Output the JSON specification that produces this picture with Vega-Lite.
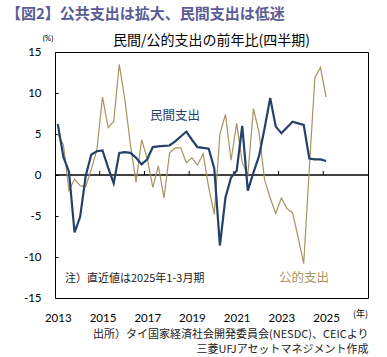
{
  "$schema": "https://vega.github.io/schema/vega-lite/v6.json",
  "background": "white",
  "padding": {"left": 5, "right": 5, "top": 7, "bottom": 5},
  "title": {
    "text": "【図2】公共支出は拡大、民間支出は低迷",
    "anchor": "start",
    "frame": "bounds",
    "font": "Noto Sans CJK JP",
    "fontSize": 15,
    "fontWeight": "bold",
    "color": "#5b5b96",
    "offset": 11,
    "dx": -17
  },
  "vconcat": [
    {
      "title": {
        "text": "民間/公的支出の前年比(四半期)",
        "anchor": "middle",
        "font": "Noto Sans CJK JP",
        "fontSize": 14,
        "fontWeight": "normal",
        "color": "#000000",
        "offset": -13
      },
      "width": 313,
      "height": 246,
      "data": {
        "values": [
          {"t": 2013.00, "private": 6.2, "public": 5.0},
          {"t": 2013.25, "private": 2.2, "public": 3.7},
          {"t": 2013.50, "private": 0.4, "public": -1.9},
          {"t": 2013.75, "private": -7.0, "public": -0.5},
          {"t": 2014.00, "private": -5.1, "public": -1.3},
          {"t": 2014.25, "private": -0.1, "public": -1.4},
          {"t": 2014.50, "private": 2.5, "public": 0.7},
          {"t": 2014.75, "private": 2.9, "public": 3.1},
          {"t": 2015.00, "private": 3.0, "public": 9.5},
          {"t": 2015.25, "private": 0.9, "public": 5.8},
          {"t": 2015.50, "private": -1.0, "public": 6.5},
          {"t": 2015.75, "private": 2.7, "public": 13.5},
          {"t": 2016.00, "private": 2.8, "public": 9.2},
          {"t": 2016.25, "private": 2.7, "public": 3.7},
          {"t": 2016.50, "private": 2.1, "public": -0.9},
          {"t": 2016.75, "private": 1.3, "public": 4.3},
          {"t": 2017.00, "private": 1.9, "public": 2.0},
          {"t": 2017.25, "private": 3.4, "public": -1.5},
          {"t": 2017.50, "private": 3.5, "public": 1.1},
          {"t": 2017.75, "private": 3.55, "public": -2.8},
          {"t": 2018.00, "private": 3.6, "public": 2.7},
          {"t": 2018.25, "private": 4.1, "public": 3.3},
          {"t": 2018.50, "private": 4.7, "public": 3.3},
          {"t": 2018.75, "private": 5.3, "public": 1.5},
          {"t": 2019.00, "private": 4.3, "public": 2.1},
          {"t": 2019.25, "private": 3.4, "public": 1.2},
          {"t": 2019.50, "private": 3.3, "public": 2.6},
          {"t": 2019.75, "private": 3.2, "public": -1.5},
          {"t": 2020.00, "private": 0.8, "public": -4.8},
          {"t": 2020.25, "private": -8.6, "public": 5.0},
          {"t": 2020.50, "private": -2.75, "public": 7.4},
          {"t": 2020.75, "private": -0.3, "public": 1.8},
          {"t": 2021.00, "private": 0.5, "public": 6.3},
          {"t": 2021.25, "private": 6.0, "public": 1.5},
          {"t": 2021.50, "private": -1.9, "public": 0.0},
          {"t": 2021.75, "private": 0.3, "public": 8.1},
          {"t": 2022.00, "private": 2.3, "public": 5.2},
          {"t": 2022.25, "private": 5.7, "public": -0.6},
          {"t": 2022.50, "private": 9.4, "public": -2.8},
          {"t": 2022.75, "private": 5.9, "public": -4.7},
          {"t": 2023.00, "private": 5.1, "public": -2.8},
          {"t": 2023.25, "private": 5.8, "public": -4.1},
          {"t": 2023.50, "private": 6.5, "public": -4.6},
          {"t": 2023.75, "private": 6.3, "public": -7.6},
          {"t": 2024.00, "private": 6.1, "public": -10.8},
          {"t": 2024.25, "private": 2.0, "public": 0.8},
          {"t": 2024.50, "private": 1.9, "public": 11.9},
          {"t": 2024.75, "private": 1.9, "public": 13.1},
          {"t": 2025.00, "private": 1.7, "public": 9.5}
        ]
      },
      "layer": [
        {
          "data": {"values": [{"v": 0}]},
          "mark": {"type": "rule", "color": "#000000", "strokeWidth": 1.5},
          "encoding": {
            "y": {"field": "v", "type": "quantitative", "scale": {"domain": [-15, 15], "nice": false, "zero": false}}
          }
        },
        {
          "data": {"values": [{"t": 2014.875}, {"t": 2016.875}, {"t": 2018.875}, {"t": 2020.875}, {"t": 2022.875}, {"t": 2024.875}]},
          "mark": {"type": "rule", "color": "#000000", "strokeWidth": 1},
          "encoding": {
            "x": {"field": "t", "type": "quantitative", "scale": {"domain": [2012.875, 2026.875], "nice": false, "zero": false}},
            "y": {"datum": 0, "type": "quantitative", "scale": {"domain": [-15, 15], "nice": false, "zero": false}},
            "y2": {"datum": 0.5}
          }
        },
        {
          "mark": {"type": "line", "color": "#a39462", "strokeWidth": 1.2},
          "encoding": {
            "x": {"field": "t", "type": "quantitative", "scale": {"domain": [2012.875, 2026.875], "nice": false, "zero": false}},
            "y": {"field": "public", "type": "quantitative", "scale": {"domain": [-15, 15], "nice": false, "zero": false}}
          }
        },
        {
          "mark": {"type": "line", "color": "#25406a", "strokeWidth": 2.2},
          "encoding": {
            "x": {
              "field": "t", "type": "quantitative",
              "scale": {"domain": [2012.875, 2026.875], "nice": false, "zero": false},
              "axis": {
                "values": [2013, 2015, 2017, 2019, 2021, 2023, 2025],
                "format": "d",
                "ticks": false,
                "domain": false,
                "grid": false,
                "labelPadding": 14,
                "labelFont": "Lato",
                "labelFontSize": 11.5,
                "labelColor": "#000000",
                "title": ["出所）タイ国家経済社会開発委員会(NESDC)、CEICより", "三菱UFJアセットマネジメント作成"],
                "titleFont": "Noto Sans CJK JP",
                "titleFontSize": 11,
                "titleFontWeight": "normal",
                "titleColor": "#222222",
                "titleLineHeight": 15,
                "titleAlign": "right",
                "titleAnchor": "end",
                "titlePadding": 5
              }
            },
            "y": {
              "field": "private", "type": "quantitative",
              "scale": {"domain": [-15, 15], "nice": false, "zero": false},
              "axis": {
                "values": [-15, -10, -5, 0, 5, 10, 15],
                "labelExpr": "datum.value + ''",
                "tickSize": -3,
                "tickColor": "#000000",
                "domain": false,
                "grid": false,
                "labelPadding": 17,
                "labelFont": "Lato",
                "labelFontSize": 11.5,
                "labelColor": "#000000",
                "title": "(%)",
                "titleFont": "Lato",
                "titleFontSize": 8,
                "titleFontWeight": "normal",
                "titleColor": "#000000",
                "titleAngle": 0,
                "titleX": -7.5,
                "titleY": -13.5,
                "titleAlign": "center",
                "titleBaseline": "middle"
              }
            }
          }
        },
        {
          "data": {"values": [{"label": "民間支出"}]},
          "mark": {"type": "text", "align": "left", "baseline": "middle", "font": "Noto Sans CJK JP", "fontSize": 12.5, "color": "#25406a"},
          "encoding": {
            "x": {"datum": 2017.12, "type": "quantitative", "scale": {"domain": [2012.875, 2026.875], "nice": false, "zero": false}},
            "y": {"datum": 7.2, "type": "quantitative", "scale": {"domain": [-15, 15], "nice": false, "zero": false}},
            "text": {"field": "label"}
          }
        },
        {
          "data": {"values": [{"label": "公的支出"}]},
          "mark": {"type": "text", "align": "left", "baseline": "middle", "font": "Noto Sans CJK JP", "fontSize": 12.5, "color": "#a8945c"},
          "encoding": {
            "x": {"datum": 2022.89, "type": "quantitative", "scale": {"domain": [2012.875, 2026.875], "nice": false, "zero": false}},
            "y": {"datum": -12.6, "type": "quantitative", "scale": {"domain": [-15, 15], "nice": false, "zero": false}},
            "text": {"field": "label"}
          }
        },
        {
          "data": {"values": [{"label": "注）直近値は2025年1-3月期"}]},
          "mark": {"type": "text", "align": "left", "baseline": "middle", "font": "Noto Sans CJK JP", "fontSize": 11, "color": "#222222"},
          "encoding": {
            "x": {"datum": 2013.32, "type": "quantitative", "scale": {"domain": [2012.875, 2026.875], "nice": false, "zero": false}},
            "y": {"datum": -12.7, "type": "quantitative", "scale": {"domain": [-15, 15], "nice": false, "zero": false}},
            "text": {"field": "label"}
          }
        },
        {
          "data": {"values": [{"label": "(年)"}]},
          "mark": {"type": "text", "align": "right", "baseline": "middle", "font": "Noto Sans CJK JP", "fontSize": 9, "color": "#000000"},
          "encoding": {
            "x": {"datum": 2026.875, "type": "quantitative", "scale": {"domain": [2012.875, 2026.875], "nice": false, "zero": false}},
            "y": {"datum": -16.95, "type": "quantitative", "scale": {"domain": [-15, 15], "nice": false, "zero": false}},
            "text": {"field": "label"}
          }
        }
      ]
    }
  ],
  "config": {
    "view": {"stroke": "#000000", "strokeWidth": 1},
    "font": "Noto Sans CJK JP",
    "concat": {"spacing": 0}
  }
}
